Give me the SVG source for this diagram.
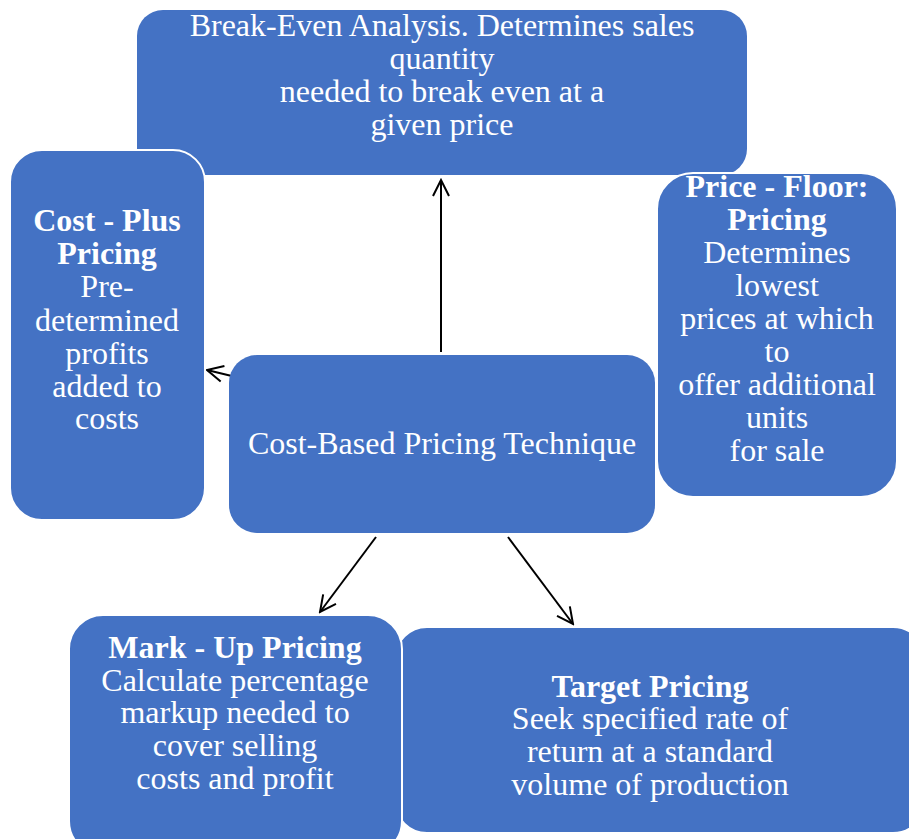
<svg xmlns="http://www.w3.org/2000/svg" width="909" height="839" viewBox="0 0 909 839">
<defs>
<style>
.box{fill:#4472C4;}
.bx{fill:#4472C4;stroke:#FFFFFF;stroke-width:2;}
.t{font-family:'Liberation Serif','Times New Roman',serif;font-size:32px;fill:#FFFFFF;text-anchor:middle;}
.b{font-weight:bold;}
.c{stroke:#000000;stroke-width:2;fill:none;marker-end:url(#ah);}
</style>
<marker id="ah" viewBox="0 0 20 20" refX="18" refY="10" markerWidth="20" markerHeight="20" markerUnits="userSpaceOnUse" orient="auto">
<path d="M2,2 L18,10 L2,18" fill="none" stroke="#000000" stroke-width="2"/>
</marker>
</defs>
<rect width="909" height="839" fill="#FFFFFF"/>
<g id="connectors">
<line class="c" x1="441" y1="352" x2="441" y2="180"/>
<line class="c" x1="240" y1="378" x2="207" y2="370"/>
<line class="c" x1="376" y1="537" x2="320" y2="612"/>
<line class="c" x1="508" y1="537" x2="573" y2="624"/>
</g>
<g id="break-even">
<rect class="box" x="137" y="10" width="610" height="165" rx="26"/>
<text class="t" x="442" y="36" font-family="Liberation Serif">Break-Even Analysis. Determines sales</text>
<text class="t" x="442" y="69" font-family="Liberation Serif">quantity</text>
<text class="t" x="442" y="102" font-family="Liberation Serif">needed to break even at a</text>
<text class="t" x="442" y="135" font-family="Liberation Serif">given price</text>
</g>
<g id="cost-plus">
<rect class="bx" x="10" y="150" width="195" height="370" rx="32"/>
<text class="t b" x="107" y="231" font-family="Liberation Serif">Cost - Plus</text>
<text class="t b" x="107" y="264" font-family="Liberation Serif">Pricing</text>
<text class="t" x="107" y="297" font-family="Liberation Serif">Pre-</text>
<text class="t" x="107" y="331" font-family="Liberation Serif">determined</text>
<text class="t" x="107" y="364" font-family="Liberation Serif">profits</text>
<text class="t" x="107" y="397" font-family="Liberation Serif">added to</text>
<text class="t" x="107" y="429" font-family="Liberation Serif">costs</text>
</g>
<g id="price-floor">
<rect class="bx" x="657" y="173" width="240" height="324" rx="36"/>
<text class="t b" x="777" y="197" font-family="Liberation Serif">Price - Floor:</text>
<text class="t b" x="777" y="230" font-family="Liberation Serif">Pricing</text>
<text class="t" x="777" y="263" font-family="Liberation Serif">Determines</text>
<text class="t" x="777" y="296" font-family="Liberation Serif">lowest</text>
<text class="t" x="777" y="329" font-family="Liberation Serif">prices at which</text>
<text class="t" x="777" y="362" font-family="Liberation Serif">to</text>
<text class="t" x="777" y="395" font-family="Liberation Serif">offer additional</text>
<text class="t" x="777" y="428" font-family="Liberation Serif">units</text>
<text class="t" x="777" y="461" font-family="Liberation Serif">for sale</text>
</g>
<g id="center">
<rect class="box" x="229" y="355" width="426" height="178" rx="28"/>
<text class="t" x="442" y="454" font-family="Liberation Serif">Cost-Based Pricing Technique</text>
</g>
<g id="target">
<rect class="bx" x="395" y="627" width="530" height="206" rx="32"/>
<text class="t b" x="650" y="697" font-family="Liberation Serif">Target Pricing</text>
<text class="t" x="650" y="729" font-family="Liberation Serif">Seek specified rate of</text>
<text class="t" x="650" y="762" font-family="Liberation Serif">return at a standard</text>
<text class="t" x="650" y="795" font-family="Liberation Serif">volume of production</text>
</g>
<g id="mark-up">
<rect class="bx" x="69" y="615" width="333" height="240" rx="34"/>
<text class="t b" x="235" y="658" font-family="Liberation Serif">Mark - Up Pricing</text>
<text class="t" x="235" y="691" font-family="Liberation Serif">Calculate percentage</text>
<text class="t" x="235" y="723" font-family="Liberation Serif">markup needed to</text>
<text class="t" x="235" y="756" font-family="Liberation Serif">cover selling</text>
<text class="t" x="235" y="789" font-family="Liberation Serif">costs and profit</text>
</g>
</svg>
